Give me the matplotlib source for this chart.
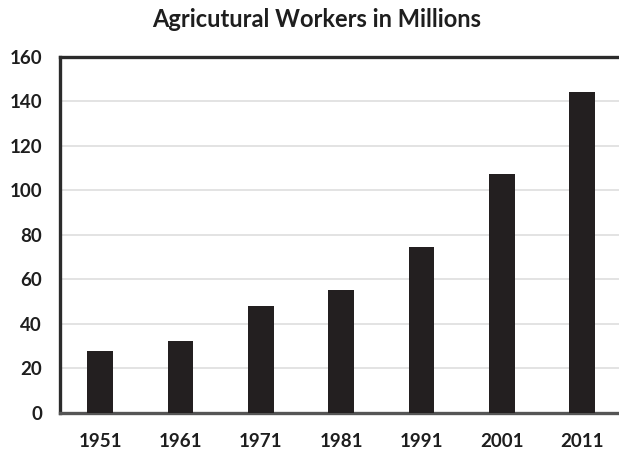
import matplotlib
matplotlib.use("Agg")
from matplotlib import pyplot as plt

# Census years and agricultural workers (millions)
years = ["1951", "1961", "1971", "1981", "1991", "2001", "2011"]
workers = [27.9, 32.0, 48.1, 55.2, 74.4, 107.4, 144.2]
y_ticks = [0, 20, 40, 60, 80, 100, 120, 140, 160]

plt.rcParams["font.family"] = ["Lato", "DejaVu Sans"]

fig = plt.figure(figsize=(6.19, 4.51), dpi=100)
# plot area runs slightly past the right edge of the canvas
ax = fig.add_axes([0.097, 0.085, 0.908, 0.789])

x = range(len(years))
ax.bar(x, workers, width=0.32, color="#231f20", zorder=3)

ax.set_xlim(-0.5, 6.5)
ax.set_ylim(0, 160)
ax.set_yticks(y_ticks)
ax.set_xticks(list(x))
ax.set_xticklabels(years)

ax.grid(axis="y", color="#dedede", linewidth=1.2, zorder=0)
ax.tick_params(axis="both", length=0, labelsize=13.5, labelcolor="#1e1e1e")
ax.tick_params(axis="x", pad=15)
ax.tick_params(axis="y", pad=13)
for lab in ax.get_xticklabels() + ax.get_yticklabels():
    lab.set_fontweight("bold")

for side in ["top", "left"]:
    ax.spines[side].set_color("#2b2b2b")
    ax.spines[side].set_linewidth(2.4)
ax.spines["bottom"].set_color("#555555")
ax.spines["bottom"].set_linewidth(2.4)
ax.spines["right"].set_visible(False)

fig.text(0.512, 0.940, "Agricutural Workers in Millions", ha="center",
         va="baseline", fontsize=17, fontweight="bold", color="#1e1e1e")

fig.savefig("out.png", dpi=100)
